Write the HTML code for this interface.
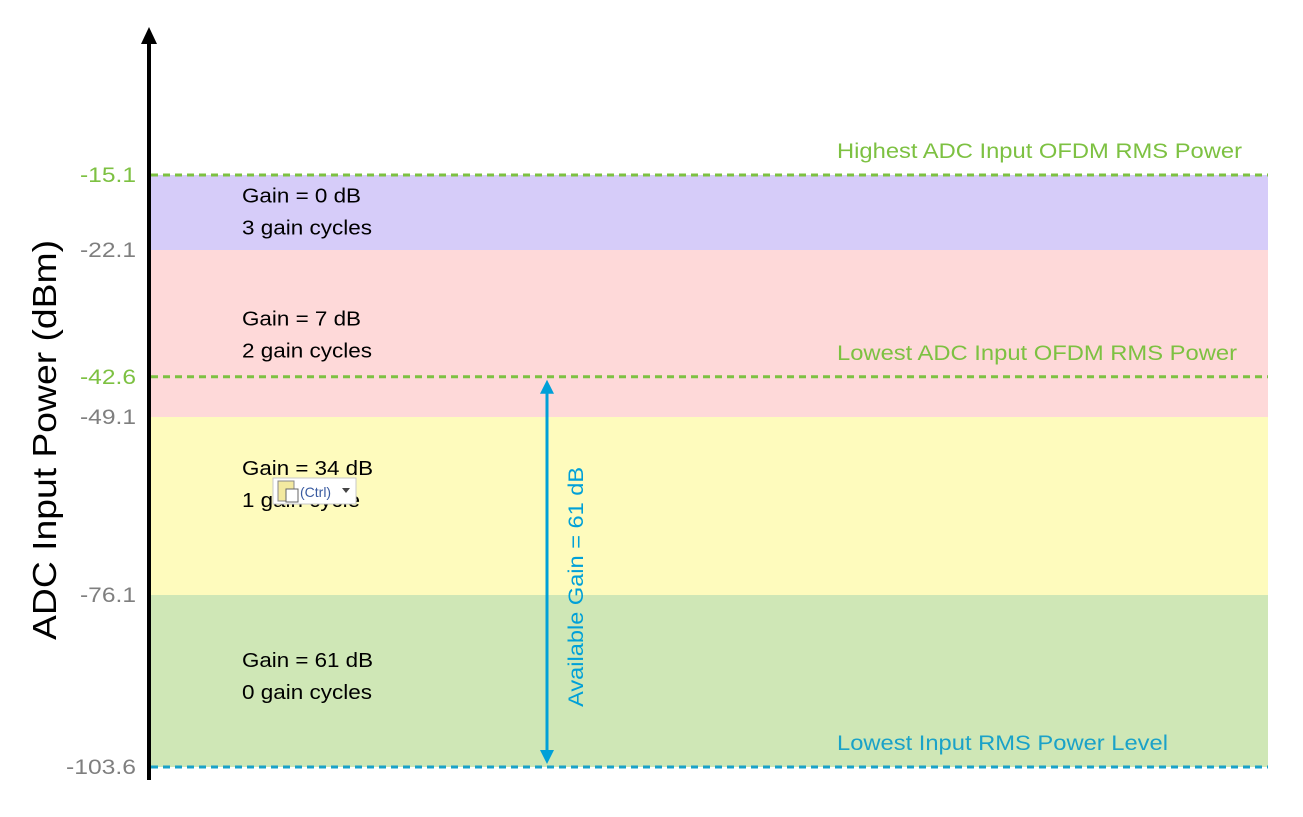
<!DOCTYPE html>
<html><head><meta charset="utf-8"><style>
html,body{margin:0;padding:0;background:#fff;}
svg{display:block;font-family:"Liberation Sans",sans-serif;}
</style></head><body>
<svg id="chart" width="1303" height="817">
<line x1="149" y1="780" x2="149" y2="40" stroke="#000" stroke-width="4"/>
<path d="M141,44 L149,27 L157,44 Z" fill="#000"/>
<text transform="translate(56,440) rotate(-90)" text-anchor="middle" font-size="33" textLength="400" lengthAdjust="spacingAndGlyphs" fill="#000">ADC Input Power (dBm)</text>
<g id="bands"></g>
<g id="ticks"></g>
<g id="refs"></g>
<line id="gainArrow" x1="547" x2="547" stroke="#00a0d8" stroke-width="3"/>
<path id="headTop" fill="#00a0d8"/>
<path id="headBot" fill="#00a0d8"/>
<text id="gainLabel" font-size="21" fill="#00a0d8" text-anchor="middle" textLength="240" lengthAdjust="spacingAndGlyphs">Available Gain = 61 dB</text>
<g>
<rect x="273" y="478" width="83" height="26" fill="#fff" stroke="#c8c8c8"/>
<rect x="278" y="481" width="16" height="20" fill="#f3e9a0" stroke="#888"/>
<rect x="286" y="489" width="12" height="13" fill="#fff" stroke="#666"/>
<text x="300" y="497" font-size="14" fill="#3a5ba0">(Ctrl)</text>
<path d="M342,488 L350,488 L346,493 Z" fill="#444"/>
</g>
</svg>
<script>
const bandTop = [-15.1, -22.1, -49.1, -76.1];
const bandBottom = [-22.1, -49.1, -76.1, -103.6];
const bandGains = ["Gain = 0 dB", "Gain = 7 dB", "Gain = 34 dB", "Gain = 61 dB"];
const bandCycles = ["3 gain cycles", "2 gain cycles", "1 gain cycle", "0 gain cycles"];
const bandColors = ["#d6ccf9", "#fed9d9", "#fefbbd", "#cfe7b6"];
const tickValues = [-15.1, -22.1, -42.6, -49.1, -76.1, -103.6];
const tickLabels = ["-15.1", "-22.1", "-42.6", "-49.1", "-76.1", "-103.6"];
const refValues = [-15.1, -42.6, -103.6];
const refLabels = ["Highest ADC Input OFDM RMS Power", "Lowest ADC Input OFDM RMS Power", "Lowest Input RMS Power Level"];
const refColors = ["#7dc142", "#7dc142", "#1aa2c8"];
const gainRange = [-42.6, -103.6];
const textOffsets = [-10, -8, -31, -14];

const dom = [-15.1, -22.1, -49.1, -76.1, -103.6];
const rng = [175, 250, 417, 595, 767];
function y(v){
  for(let i=0;i<dom.length-1;i++){
    if(v<=dom[i] && v>=dom[i+1]) return rng[i]+(dom[i]-v)/(dom[i]-dom[i+1])*(rng[i+1]-rng[i]);
  }
  if(v>dom[0]) return rng[0]-(v-dom[0])*(rng[1]-rng[0])/(dom[0]-dom[1]);
  const n=dom.length-1;
  return rng[n]+(dom[n]-v)*(rng[n]-rng[n-1])/(dom[n-1]-dom[n]);
}
const NS="http://www.w3.org/2000/svg";
function mk(tag, attrs, parent){
  const e=document.createElementNS(NS,tag);
  for(const k in attrs) e.setAttribute(k,attrs[k]);
  parent.appendChild(e); return e;
}
function fit(t, w){ t.setAttribute('textLength', Math.round(t.getComputedTextLength()*w)); t.setAttribute('lengthAdjust','spacingAndGlyphs'); }
const gB=document.getElementById('bands');
bandTop.forEach((t,i)=>{
  const y0=y(t), y1=y(bandBottom[i]);
  const r=mk('rect',{x:151,y:y0,width:1117,height:y1-y0,fill:bandColors[i]},gB);
  
  
  const cy=(y0+y1)/2+textOffsets[i];
  const t1=mk('text',{x:242,y:cy,'font-size':20,fill:'#000'},gB);
  t1.textContent=bandGains[i];
  
  
  fit(t1,1.12);
  const t2=mk('text',{x:242,y:cy+32,'font-size':20,fill:'#000'},gB);
  t2.textContent=bandCycles[i];
  
  
  fit(t2,1.12);
});
const gT=document.getElementById('ticks');
tickValues.forEach((v,i)=>{
  const green = (v===-15.1||v===-42.6);
  const t=mk('text',{x:136,y:y(v)+7,'font-size':21,'text-anchor':'end',fill:green?'#7dc142':'#7f7f7f'},gT);
  t.textContent=tickLabels[i];
  
  
  fit(t,1.17);
});
const gR=document.getElementById('refs');
refValues.forEach((v,i)=>{
  const l=mk('line',{x1:151,x2:1268,y1:y(v),y2:y(v),stroke:refColors[i],'stroke-width':3,'stroke-dasharray':'7,5'},gR);
  
  
  const t=mk('text',{x:837,y:y(v)-17,'font-size':21,fill:refColors[i]},gR);
  t.textContent=refLabels[i];
  
  
  fit(t,1.13);
});
const ya=y(gainRange[0])+3, yb=y(gainRange[1])-3;
const ga=document.getElementById('gainArrow');
ga.setAttribute('y1', ya+10);
ga.setAttribute('y2', yb-10);
document.getElementById('headTop').setAttribute('d',`M547,${ya} L554,${ya+14} L540,${ya+14} Z`);
document.getElementById('headBot').setAttribute('d',`M547,${yb} L554,${yb-14} L540,${yb-14} Z`);
const gl=document.getElementById('gainLabel');
const mid=(y(gainRange[0])+y(gainRange[1]))/2;
gl.setAttribute('transform','translate(583,'+(mid+15)+') rotate(-90)');
</script>
</body></html>
